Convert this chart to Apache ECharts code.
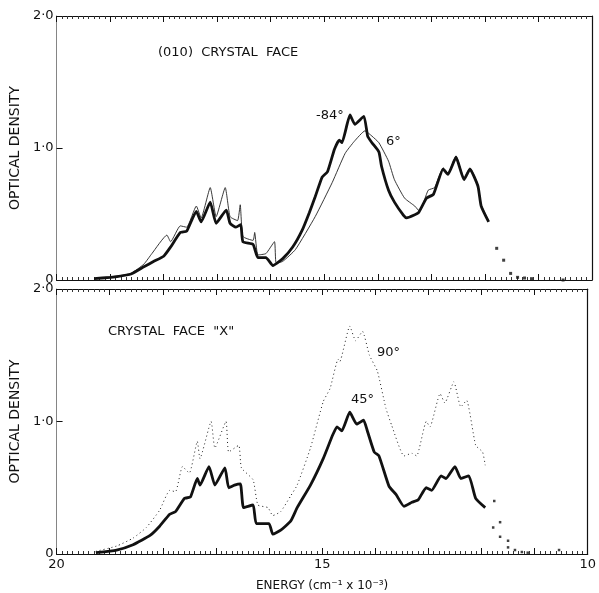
<!DOCTYPE html>
<html>
<head>
<meta charset="utf-8">
<script src="https://cdn.jsdelivr.net/npm/echarts@6/dist/echarts.min.js"></script>
<style>
  html, body { margin: 0; padding: 0; background: #fff; }
  #chart { width: 599px; height: 593px; }
</style>
</head>
<body>
<div id="chart"></div>
<script>
// energy in cm^-1 x 10^-3, optical density
const yTicks = ["0", "1·0", "2·0"];
const xTicks = [20, 15, 10];

// (010) crystal face, -84 deg (thick, squares)
const topAE = [19.30, 19.00, 18.87, 18.61, 18.37, 18.19, 18.00, 17.87, 17.69, 17.57, 17.39, 17.30, 17.13, 17.02, 16.83, 16.76, 16.65, 16.56, 16.52, 16.33, 16.24, 16.09, 15.96, 15.78, 15.59, 15.41, 15.28, 15.17, 15.04, 14.94, 14.81, 14.72, 14.67, 14.52, 14.43, 14.26, 14.19, 14.11, 13.98, 13.93, 13.80, 13.69, 13.52, 13.46, 13.33, 13.24, 13.09, 12.96, 12.78, 12.69, 12.54, 12.39, 12.28, 12.13, 12.07, 11.93];
const topAD = [0.01, 0.02, 0.025, 0.045, 0.10, 0.14, 0.18, 0.25, 0.36, 0.37, 0.52, 0.44, 0.59, 0.43, 0.53, 0.43, 0.40, 0.42, 0.29, 0.27, 0.17, 0.17, 0.11, 0.16, 0.25, 0.38, 0.51, 0.63, 0.78, 0.82, 0.99, 1.06, 1.04, 1.25, 1.18, 1.24, 1.09, 1.04, 0.97, 0.86, 0.68, 0.59, 0.49, 0.47, 0.49, 0.51, 0.62, 0.65, 0.84, 0.80, 0.93, 0.76, 0.84, 0.71, 0.56, 0.44];
// (010) crystal face, 6 deg (thin line)
const topBE = [19.30, 18.87, 18.61, 18.37, 18.22, 17.94, 17.87, 17.69, 17.57, 17.39, 17.30, 17.13, 17.02, 16.85, 16.76, 16.62, 16.57, 16.52, 16.33, 16.30, 16.24, 16.09, 15.93, 15.90, 15.78, 15.54, 15.17, 14.85, 14.61, 14.44, 14.24, 14.11, 13.98, 13.80, 13.69, 13.50, 13.31, 13.22, 13.06, 12.94, 12.78, 12.69, 12.54, 12.39, 12.28, 12.13, 12.07, 11.93];
const topBD = [0.01, 0.03, 0.05, 0.12, 0.20, 0.34, 0.29, 0.41, 0.40, 0.56, 0.47, 0.70, 0.48, 0.70, 0.48, 0.45, 0.57, 0.33, 0.30, 0.36, 0.19, 0.20, 0.29, 0.13, 0.14, 0.23, 0.48, 0.74, 0.96, 1.05, 1.13, 1.09, 1.04, 0.90, 0.76, 0.62, 0.56, 0.52, 0.68, 0.70, 0.85, 0.81, 0.94, 0.77, 0.85, 0.72, 0.57, 0.45];
// scattered points beyond the end of the top run
const topTailE = [11.78, 11.65, 11.52, 11.39, 11.26, 11.13, 10.54];
const topTailD = [0.24, 0.15, 0.05, 0.02, 0.015, 0.01, 0.0];

// crystal face "X", 45 deg (thick)
const botAE = [19.26, 18.87, 18.56, 18.24, 18.06, 17.87, 17.76, 17.59, 17.48, 17.35, 17.30, 17.13, 17.02, 16.83, 16.76, 16.65, 16.54, 16.48, 16.30, 16.24, 16.00, 15.93, 15.78, 15.59, 15.47, 15.22, 14.98, 14.80, 14.72, 14.63, 14.48, 14.35, 14.22, 14.15, 14.02, 13.93, 13.74, 13.61, 13.46, 13.31, 13.19, 13.04, 12.94, 12.76, 12.67, 12.50, 12.39, 12.24, 12.11, 11.93];
const botAD = [0.01, 0.03, 0.07, 0.14, 0.21, 0.30, 0.32, 0.42, 0.43, 0.57, 0.52, 0.66, 0.52, 0.65, 0.50, 0.52, 0.53, 0.35, 0.37, 0.23, 0.23, 0.15, 0.18, 0.25, 0.35, 0.52, 0.72, 0.90, 0.96, 0.93, 1.07, 0.98, 1.01, 0.93, 0.77, 0.74, 0.51, 0.45, 0.36, 0.39, 0.41, 0.50, 0.48, 0.59, 0.57, 0.66, 0.57, 0.59, 0.42, 0.35];
// crystal face "X", 90 deg (dotted)
const botBE = [19.26, 18.87, 18.56, 18.31, 18.06, 17.87, 17.76, 17.63, 17.50, 17.35, 17.30, 17.09, 17.02, 16.81, 16.76, 16.57, 16.52, 16.30, 16.21, 16.02, 15.93, 15.78, 15.59, 15.47, 15.22, 14.98, 14.85, 14.70, 14.67, 14.48, 14.37, 14.24, 14.11, 13.96, 13.80, 13.69, 13.46, 13.31, 13.22, 13.04, 12.97, 12.78, 12.69, 12.52, 12.39, 12.28, 12.11, 11.98, 11.93];
const botBD = [0.02, 0.06, 0.12, 0.20, 0.33, 0.48, 0.47, 0.66, 0.61, 0.85, 0.72, 1.00, 0.80, 1.00, 0.77, 0.82, 0.65, 0.56, 0.37, 0.35, 0.29, 0.32, 0.44, 0.52, 0.80, 1.15, 1.25, 1.47, 1.45, 1.72, 1.61, 1.68, 1.50, 1.38, 1.10, 0.97, 0.74, 0.76, 0.74, 1.00, 0.96, 1.21, 1.14, 1.30, 1.11, 1.16, 0.82, 0.77, 0.67];
const botTailE = [11.78, 11.76, 11.65, 11.65, 11.50, 11.50, 11.37, 11.24, 11.13, 10.54];
const botTailD = [0.20, 0.40, 0.13, 0.24, 0.05, 0.10, 0.03, 0.015, 0.01, 0.03];

const pairs = (e, d) => e.map((v, i) => [v, d[i]]);

const font = "DejaVu Sans";
const ink = "#111";

function xAx(grid, pos, labels) {
  return {
    type: "value", gridIndex: grid, position: pos, inverse: true,
    min: 10, max: 20, interval: 1,
    axisLine: { show: true, onZero: false, lineStyle: { color: ink, width: 1.2 } },
    axisTick: { show: true, inside: true, length: 6, lineStyle: { color: ink } },
    minorTick: { show: true, splitNumber: 10, length: 3, lineStyle: { color: "#333" } },
    axisLabel: {
      show: labels, color: ink, fontFamily: font, fontSize: 13, margin: 4,
      formatter: v => (xTicks.indexOf(v) >= 0 ? String(v) : "")
    },
    splitLine: { show: false }
  };
}
function yAx(grid, pos, labels) {
  return {
    type: "value", gridIndex: grid, position: pos,
    min: 0, max: 2, interval: 1,
    name: labels ? "OPTICAL DENSITY" : "",
    nameLocation: "middle", nameGap: 30, nameRotate: 90,
    nameTextStyle: { color: ink, fontFamily: font, fontSize: 14 },
    axisLine: { show: true, lineStyle: { color: labels ? "#666" : ink, width: labels ? 0.8 : 1.2 } },
    axisTick: { show: labels, inside: true, length: 6, lineStyle: { color: ink } },
    axisLabel: {
      show: labels, color: ink, fontFamily: font, fontSize: 13, margin: 3,
      formatter: v => yTicks[Math.round(v)]
    },
    splitLine: { show: false }
  };
}
function tag(text, x, y) {
  return { type: "text", left: x, top: y, style: { text: text, fill: ink, font: "13px " + font } };
}

const chart = echarts.init(document.getElementById("chart"));
chart.setOption({
  animation: false,
  backgroundColor: "#fff",
  grid: [
    { left: 52, right: 7, top: 16, height: 264 },
    { left: 52, right: 7, top: 289, height: 267 }
  ],
  xAxis: [
    xAx(0, "bottom", false),
    xAx(0, "top", false),
    Object.assign(xAx(1, "bottom", true), {
      name: "ENERGY (cm⁻¹ x 10⁻³)", nameLocation: "middle", nameGap: 26,
      nameTextStyle: { color: ink, fontFamily: font, fontSize: 12 }
    }),
    xAx(1, "top", false)
  ],
  yAxis: [yAx(0, "left", true), yAx(0, "right", false), yAx(1, "left", true), yAx(1, "right", false)],
  graphic: [
    tag("(010)  CRYSTAL  FACE", 158, 46),
    tag("-84°", 316, 109),
    tag("6°", 386, 135),
    tag("CRYSTAL  FACE  \"X\"", 108, 325),
    tag("90°", 377, 346),
    tag("45°", 351, 393)
  ],
  series: [
    {
      type: "line", xAxisIndex: 0, yAxisIndex: 0, data: pairs(topBE, topBD),
      symbol: "none", smooth: 0.15, lineStyle: { color: "#222", width: 0.9 }
    },
    {
      type: "line", xAxisIndex: 0, yAxisIndex: 0, data: pairs(topAE, topAD),
      symbol: "none", smooth: 0.15, lineStyle: { color: ink, width: 2.8 }
    },
    {
      type: "scatter", xAxisIndex: 0, yAxisIndex: 0, data: pairs(topTailE, topTailD),
      symbol: "rect", symbolSize: 3, itemStyle: { color: ink }
    },
    {
      type: "line", xAxisIndex: 2, yAxisIndex: 2, data: pairs(botBE, botBD),
      symbol: "none", smooth: 0.15, lineStyle: { color: "#222", width: 1, type: [1, 3] }
    },
    {
      type: "line", xAxisIndex: 2, yAxisIndex: 2, data: pairs(botAE, botAD),
      symbol: "none", smooth: 0.15, lineStyle: { color: ink, width: 2.8 }
    },
    {
      type: "scatter", xAxisIndex: 2, yAxisIndex: 2, data: pairs(botTailE, botTailD),
      symbol: "rect", symbolSize: 2.5, itemStyle: { color: ink }
    }
  ]
});
</script>
</body>
</html>
